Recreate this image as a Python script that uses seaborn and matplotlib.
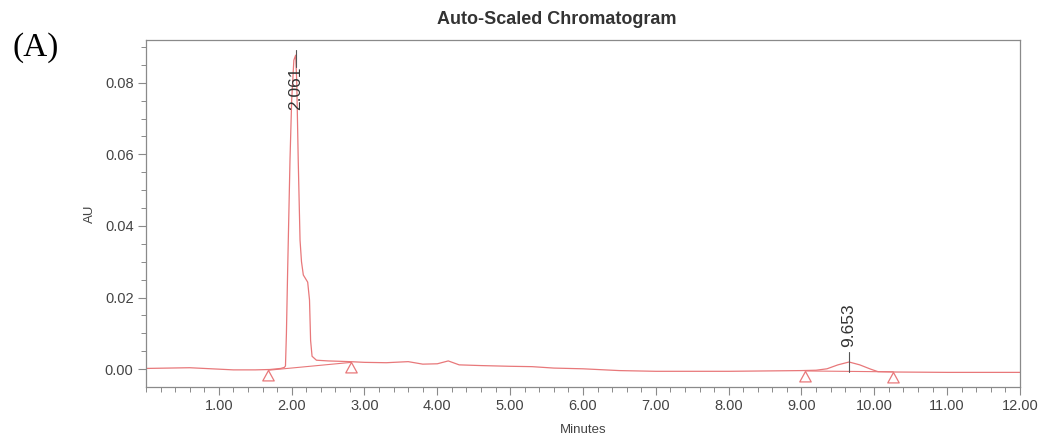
import matplotlib
matplotlib.use("Agg")
import matplotlib.pyplot as plt
from matplotlib.path import Path
from matplotlib.ticker import MultipleLocator, FormatStrFormatter, FixedLocator
import seaborn as sns
import pandas as pd

# Detector trace (retention time in minutes, absorbance in AU)
time_min = [0.00, 0.30, 0.60, 0.90, 1.20, 1.50, 1.70, 1.85, 1.90, 1.915,
            1.928, 1.945, 1.977, 2.000, 2.030, 2.055, 2.070, 2.090, 2.115, 2.135,
            2.160, 2.220, 2.245, 2.260, 2.280, 2.340, 2.500, 2.800, 3.000, 3.300,
            3.600, 3.800, 4.000, 4.150, 4.300, 4.600, 5.000, 5.300, 5.600, 6.000,
            6.500, 7.000, 8.000, 8.500, 9.000, 9.200, 9.350, 9.500, 9.653, 9.800,
            9.950, 10.050, 10.300, 11.000, 12.000]
absorbance = [0.0002, 0.0003, 0.0004, 0.0001, -0.0002, -0.0002, -0.0001, 0.0002, 0.0005, 0.0009,
              0.0100, 0.0277, 0.0584, 0.0751, 0.0863, 0.0877, 0.0800, 0.0584, 0.0360, 0.0300,
              0.0263, 0.0243, 0.0193, 0.0080, 0.0036, 0.0025, 0.0023, 0.0021, 0.0019, 0.0018,
              0.0021, 0.0014, 0.0015, 0.0023, 0.0012, 0.0010, 0.0008, 0.0007, 0.0003, 0.0001,
              -0.0004, -0.0006, -0.0006, -0.0005, -0.0004, -0.0003, 0.0001, 0.0012, 0.0020, 0.0012,
              0.0000, -0.0007, -0.0008, -0.0009, -0.0009]

# Integration baselines: start/end times and levels for each peak
base_start_t = [1.68, 9.05]
base_end_t = [2.82, 10.26]
base_start_y = [-0.0003, -0.0005]
base_end_y = [0.0019, -0.00075]

# Labelled peaks
peak_rt = [2.061, 9.653]
peak_labels = ["2.061", "9.653"]

x_ticks = [1, 2, 3, 4, 5, 6, 7, 8, 9, 10, 11, 12]
y_ticks = [0.00, 0.02, 0.04, 0.06, 0.08]

sns.set_theme(style="white")
plt.rcParams["font.family"] = ["Liberation Sans", "DejaVu Sans"]

TRACE = "#e8787a"
AXIS = "#8a8a8a"
TEXT = "#444444"

fig = plt.figure(figsize=(10.44, 4.36), dpi=100)
ax = fig.add_axes([146 / 1044, 1 - 386.7 / 436, (1020 - 146) / 1044, (386.7 - 40.5) / 436])

trace = pd.DataFrame({"Minutes": time_min, "AU": absorbance})
sns.lineplot(data=trace, x="Minutes", y="AU", color=TRACE, linewidth=0.9, ax=ax)

# Baselines drawn under each integrated peak
for t0, t1, y0, y1 in zip(base_start_t, base_end_t, base_start_y, base_end_y):
    ax.plot([t0, t1], [y0, y1], color=TRACE, linewidth=0.8)

# Open triangles whose apex sits on the baseline start / end points
tri = Path([(0, 0), (-0.55, -1.0), (0.55, -1.0), (0, 0)],
           [Path.MOVETO, Path.LINETO, Path.LINETO, Path.CLOSEPOLY])
ax.plot(base_start_t + base_end_t, base_start_y + base_end_y, linestyle="none",
        marker=tri, markersize=15, markerfacecolor="none", markeredgecolor=TRACE,
        markeredgewidth=0.9)

# Retention-time labels
ax.plot([peak_rt[0], peak_rt[0]], [0.0845, 0.0891], color="#555555", linewidth=0.8)
ax.text(peak_rt[0], 0.0845, peak_labels[0], rotation=90, ha="center", va="top",
        fontsize=12.5, color="#333333")
ax.plot([peak_rt[1], peak_rt[1]], [-0.00075, 0.0047], color="#555555", linewidth=0.8)
ax.text(peak_rt[1], 0.0062, peak_labels[1], rotation=90, ha="center", va="bottom",
        fontsize=12.5, color="#333333")

ax.set_xlim(0, 12)
ax.set_ylim(-0.0049, 0.0918)
ax.xaxis.set_major_locator(FixedLocator(x_ticks))
ax.xaxis.set_major_formatter(FormatStrFormatter("%.2f"))
ax.xaxis.set_minor_locator(MultipleLocator(0.2))
ax.yaxis.set_major_locator(FixedLocator(y_ticks))
ax.yaxis.set_major_formatter(FormatStrFormatter("%.2f"))
ax.yaxis.set_minor_locator(MultipleLocator(0.005))

ax.tick_params(which="major", direction="out", length=6, width=0.8, color=AXIS,
               labelsize=10.5, labelcolor=TEXT, pad=3, bottom=True, left=True)
ax.tick_params(which="minor", direction="out", length=3.5, width=0.7, color=AXIS,
               bottom=True, left=True)
for s in ax.spines.values():
    s.set_color(AXIS)
    s.set_linewidth(0.9)

ax.set_xlabel("Minutes", fontsize=9.5, color=TEXT, labelpad=8)
ax.set_ylabel("AU", fontsize=9.5, color=TEXT, labelpad=6)

fig.text(557 / 1044, 1 - 19 / 436, "Auto-Scaled Chromatogram", ha="center", va="center",
         fontsize=13, fontweight="bold", color="#333333")
fig.text(12 / 1044, 1 - 48 / 436, "(A)", ha="left", va="center",
         fontsize=24, family=["Liberation Serif", "DejaVu Serif"], color="black")

fig.savefig("out.png", dpi=100)
